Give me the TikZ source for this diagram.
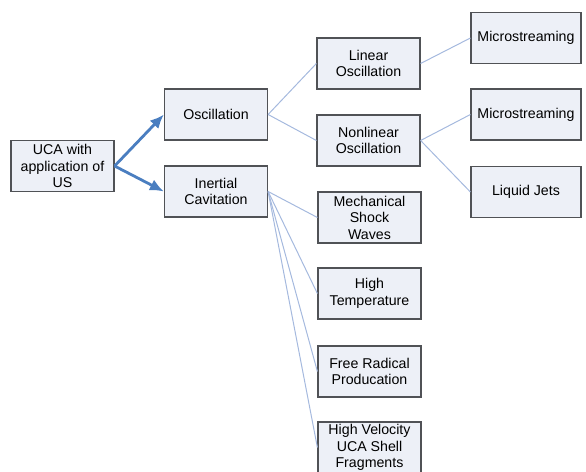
\documentclass[tikz,border=0pt]{standalone}
\usepackage{fontspec}
\setmainfont{Liberation Sans}
\usetikzlibrary{arrows.meta}

\definecolor{boxfill}{RGB}{237,240,247}
\definecolor{boxline}{RGB}{80,82,86}
\definecolor{mainarrow}{RGB}{74,126,192}
\definecolor{thinline}{RGB}{165,185,222}

\tikzset{
  box/.style={draw=boxline, line width=1.2pt, fill=boxfill, minimum width=103pt, minimum height=51pt,
    align=center, inner sep=1pt, font=\fontsize{14.2}{16.5}\selectfont},
  widebox/.style={box, minimum width=110pt},
  mainlink/.style={draw=mainarrow, line width=2.8pt, -{Latex[length=14pt,width=12pt]}},
  sublink/.style={draw=thinline, line width=1pt}
}

\begin{document}
\begin{tikzpicture}[x=1pt,y=1pt,yscale=-1]
\useasboundingbox (0,0) rectangle (586,471);

% Root
\node [box] (uca) at (62.5,166) {UCA with\\application of\\US};

% First level
\node [box] (osc) at (216,114.5) {Oscillation};
\node [box] (inert) at (216,191.5) {Inertial\\Cavitation};

% Second level
\node [box] (lin) at (368.5,63.5) {Linear\\Oscillation};
\node [box] (nonlin) at (368.5,140.5) {Nonlinear\\Oscillation};
\node [box] (shock) at (369.5,217.5) {Mechanical\\Shock\\Waves};
\node [box] (temp) at (369.5,293.5) {High\\Temperature};
\node [box] (radical) at (369.5,371.5) {Free Radical\\Producation};
\node [box] (frag) at (369.5,447.5) {High Velocity\\UCA Shell\\Fragments};

% Third level
\node [widebox] (micA) at (526,38) {Microstreaming};
\node [widebox] (micB) at (526,114.5) {Microstreaming};
\node [widebox] (jets) at (526,192) {Liquid Jets};

% Connectors
\draw [mainlink] (uca.east) -- (osc.west);
\draw [mainlink] (uca.east) -- (inert.west);

\draw [sublink] (osc.east) -- (lin.west);
\draw [sublink] (osc.east) -- (nonlin.west);
\draw [sublink] (lin.east) -- (micA.west);
\draw [sublink] (nonlin.east) -- (micB.west);
\draw [sublink] (nonlin.east) -- (jets.west);

\foreach \leaf in {shock,temp,radical,frag}
  \draw [sublink] (inert.east) -- (\leaf.west);

\end{tikzpicture}
\end{document}
